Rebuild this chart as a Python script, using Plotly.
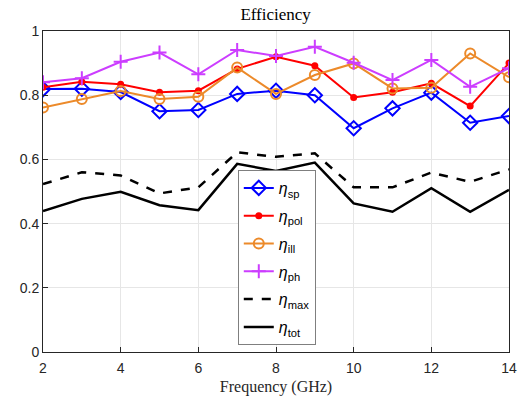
import plotly.graph_objects as go

freq = [2, 3, 4, 5, 6, 7, 8, 9, 10, 11, 12, 13, 14]
eta_sp = [0.819, 0.82, 0.81, 0.75, 0.754, 0.804, 0.814, 0.80, 0.697, 0.759, 0.808, 0.714, 0.735]
eta_pol = [0.825, 0.842, 0.834, 0.809, 0.814, 0.882, 0.92, 0.892, 0.793, 0.809, 0.837, 0.766, 0.90]
eta_ill = [0.762, 0.788, 0.813, 0.788, 0.795, 0.886, 0.804, 0.863, 0.899, 0.821, 0.823, 0.93, 0.856]
eta_ph = [0.84, 0.853, 0.904, 0.933, 0.865, 0.941, 0.922, 0.951, 0.901, 0.847, 0.91, 0.826, 0.884]
eta_max = [0.523, 0.56, 0.55, 0.494, 0.513, 0.622, 0.608, 0.619, 0.513, 0.513, 0.559, 0.53, 0.569]
eta_tot = [0.439, 0.477, 0.499, 0.457, 0.442, 0.586, 0.564, 0.59, 0.463, 0.437, 0.51, 0.437, 0.505]

x_ticks = [2, 4, 6, 8, 10, 12, 14]
y_ticks = [0, 0.2, 0.4, 0.6, 0.8, 1]
y_tick_labels = ["0", "0.2", "0.4", "0.6", "0.8", "1"]

fig = go.Figure()
fig.add_trace(go.Scatter(x=freq, y=eta_sp, mode="lines+markers", name="<i>η</i><sub>sp</sub>", legendgroup="a",
                         line=dict(color="#0000FF", width=2),
                         marker=dict(symbol="diamond-open", size=11, color="#0000FF", line=dict(width=2))))
fig.add_trace(go.Scatter(x=freq, y=eta_pol, mode="lines+markers", name="<i>η</i><sub>pol</sub>", legendgroup="b",
                         line=dict(color="#FF0000", width=2),
                         marker=dict(symbol="circle", size=7, color="#FF0000")))
fig.add_trace(go.Scatter(x=freq, y=eta_ill, mode="lines+markers", name="<i>η</i><sub>ill</sub>", legendgroup="c",
                         line=dict(color="#EC8A2A", width=2),
                         marker=dict(symbol="circle-open", size=10, color="#EC8A2A", line=dict(width=2))))
fig.add_trace(go.Scatter(x=freq, y=eta_ph, mode="lines+markers", name="<i>η</i><sub>ph</sub>", legendgroup="d",
                         line=dict(color="#CC3DFF", width=2),
                         marker=dict(symbol="cross-thin-open", size=10, color="#CC3DFF", line=dict(width=2, color="#CC3DFF"))))
fig.add_trace(go.Scatter(x=freq, y=eta_max, mode="lines", name="<i>η</i><sub>max</sub>", legendgroup="e",
                         line=dict(color="black", width=2.5, dash="dash")))
fig.add_trace(go.Scatter(x=freq, y=eta_tot, mode="lines", name="<i>η</i><sub>tot</sub>", legendgroup="f",
                         line=dict(color="black", width=2.5)))

axis_common = dict(showline=True, linecolor="#262626", linewidth=1, mirror=True,
                   ticks="inside", ticklen=5, tickcolor="#262626", automargin=False,
                   showgrid=True, gridcolor="#E6E6E6", gridwidth=1, zeroline=False,
                   tickfont=dict(family="Liberation Sans, Arial", size=14, color="#262626"))

fig.update_layout(
    width=525, height=402,
    margin=dict(l=43, r=16, t=31, b=50),
    paper_bgcolor="white", plot_bgcolor="white",
    title=dict(text="Efficiency", x=0.525, xanchor="center", y=0.965, yanchor="middle",
               font=dict(family="Liberation Serif, DejaVu Serif, serif", size=17, color="black")),
    xaxis=dict(range=[2, 14], tickvals=x_ticks, ticklabelstandoff=3,
               title=dict(text="Frequency (GHz)", standoff=6,
                          font=dict(family="Liberation Serif, DejaVu Serif, serif", size=16, color="#262626")),
               **axis_common),
    yaxis=dict(range=[0, 1], tickvals=y_ticks, ticktext=y_tick_labels, **axis_common),
    legend=dict(x=0.418, y=0.567, xanchor="left", yanchor="top",
                bgcolor="white", bordercolor="#7F7F7F", borderwidth=1,
                font=dict(family="Liberation Sans, Arial", size=16, color="black"),
                itemwidth=30, tracegroupgap=4),
    showlegend=True,
)

fig.write_html("out.html")
